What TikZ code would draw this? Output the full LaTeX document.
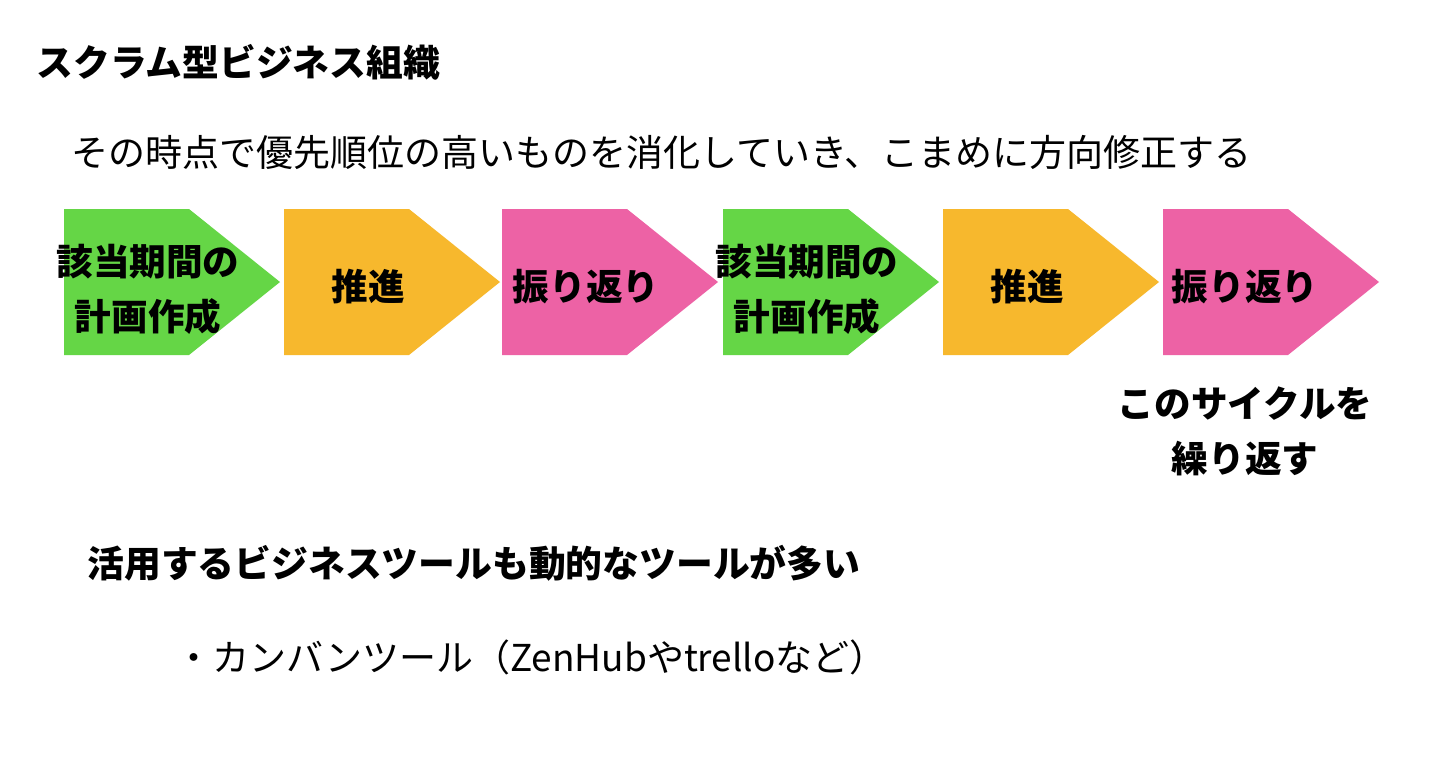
\documentclass[tikz,border=0pt]{standalone}
\usepackage{fontspec}
\setmainfont{Noto Sans CJK JP}
\usepackage{tikz}
\usetikzlibrary{positioning}
\definecolor{planfill}{HTML}{65D646}
\definecolor{pushfill}{HTML}{F7B82D}
\definecolor{lookfill}{HTML}{ED62A5}
\tikzset{
  heading/.style={anchor=west,inner sep=0pt,font=\fontsize{18.4pt}{27pt}\selectfont\bfseries},
  plaintext/.style={anchor=west,inner sep=0pt,font=\fontsize{18.5pt}{27pt}\selectfont},
  stagetext/.style={align=center,inner sep=0pt,font=\fontsize{18.3pt}{27.5pt}\selectfont\bfseries},
  note/.style={stagetext,align=center}
}

\begin{document}
\begin{tikzpicture}[x=0.5pt,y=-0.5pt]
  \useasboundingbox[fill=white] (0,0) rectangle (1440,761);
  % chevrons of the cycle
  \foreach \x/\c in {64/planfill,284/pushfill,502/lookfill,723/planfill,943/pushfill,1163/lookfill}
    \fill[\c] (\x,209) -- ++(125,0) -- ++(91,73) -- ++(-91,73) -- ++(-125,0) -- cycle;
  \node[heading] (title) at (36,62) {スクラム型ビジネス組織};
  \node[plaintext] (lead) at (71,152) {その時点で優先順位の高いものを消化していき、こまめに方向修正する};
  \node[stagetext] (plan1) at (148,289) {該当期間の\\計画作成};
  \node[stagetext] (push1) at (368,287) {推進};
  \node[stagetext] (look1) at (586,287) {振り返り};
  \node[stagetext] (plan2) at (807,289) {該当期間の\\計画作成};
  \node[stagetext] (push2) at (1027,287) {推進};
  \node[stagetext] (look2) at (1245,287) {振り返り};
  \node[note,below=41pt of look2] (cycle) {このサイクルを\\繰り返す};
  \node[heading] (tools) at (87,563) {活用するビジネスツールも動的なツールが多い};
  \node[plaintext] (kanban) at (175,657) {・カンバンツール（ZenHubやtrelloなど）};
\end{tikzpicture}
\end{document}
